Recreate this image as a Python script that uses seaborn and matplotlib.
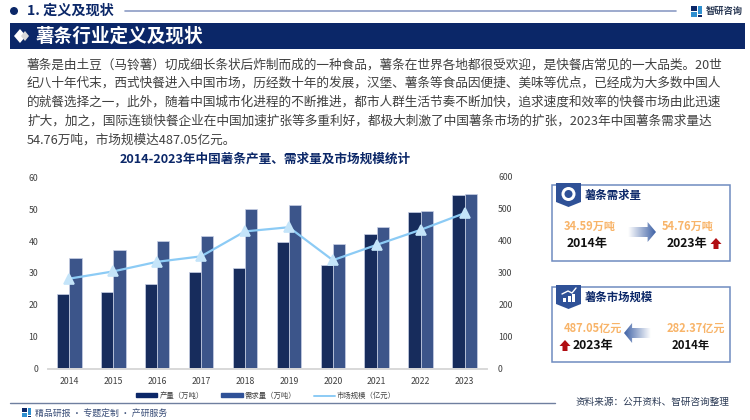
import matplotlib
matplotlib.use("Agg")
import matplotlib.pyplot as plt
from matplotlib.patches import Circle, Polygon, Rectangle
from matplotlib.lines import Line2D
import numpy as np
import pandas as pd
import seaborn as sns

years = ["2014", "2015", "2016", "2017", "2018", "2019", "2020", "2021", "2022", "2023"]
output = [23.4, 24.2, 26.7, 30.2, 31.7, 39.7, 32.4, 42.3, 49.1, 54.4]
demand = [34.59, 37.1, 39.9, 41.7, 49.9, 51.3, 39.1, 44.5, 49.3, 54.76]
market = [282.37, 305, 335, 352, 430, 443, 340, 388, 435, 487.05]
left_ticks = [0, 10, 20, 30, 40, 50, 60]
right_ticks = [0, 100, 200, 300, 400, 500, 600]

body_lines = [
    "薯条是由土豆（马铃薯）切成细长条状后炸制而成的一种食品，薯条在世界各地都很受欢迎，是快餐店常见的一大品类。20世",
    "纪八十年代末，西式快餐进入中国市场，历经数十年的发展，汉堡、薯条等食品因便捷、美味等优点，已经成为大多数中国人",
    "的就餐选择之一，此外，随着中国城市化进程的不断推进，都市人群生活节奏不断加快，追求速度和效率的快餐市场由此迅速",
    "扩大，加之，国际连锁快餐企业在中国加速扩张等多重利好，都极大刺激了中国薯条市场的扩张，2023年中国薯条需求量达",
    "54.76万吨，市场规模达487.05亿元。",
]

NAVY = "#0B2768"
BLUE = "#2F5197"
SKY = "#8CCBF5"
ORANGE = "#F8B469"
RED = "#B00D12"

sns.set_theme(style="white")
plt.rcParams["font.family"] = ["Noto Sans CJK SC", "DejaVu Sans"]

fig = plt.figure(figsize=(7.5, 4.2), dpi=100, facecolor="white")

# page furniture, drawn in pixel coordinates
bg = fig.add_axes([0, 0, 1, 1], zorder=0)
bg.set_xlim(0, 750)
bg.set_ylim(420, 0)
bg.axis("off")


def txt(x, y, s, size, color="#404040", ha="left", bold=False):
    bg.text(x, y, s, fontsize=size, color=color, ha=ha, va="center",
            fontweight="bold" if bold else "normal")


def logo(x, y, s):
    bg.add_patch(Rectangle((x, y), s * 0.55, s * 0.42, color=NAVY, lw=0))
    bg.add_patch(Rectangle((x + s * 0.62, y), s * 0.38, s * 0.75, color="#2E8FD0", lw=0))
    bg.add_patch(Rectangle((x, y + s * 0.55), s * 0.55, s * 0.45, color="#2E8FD0", lw=0))
    bg.add_patch(Rectangle((x + s * 0.62, y + s * 0.85), s * 0.38, s * 0.15, color=NAVY, lw=0))


def grad_arrow(x0, x1, y):
    # shaft fades away from the arrow head
    d = 1 if x1 > x0 else -1
    w = abs(x1 - x0)
    pts = [(x0, y - 5), (x1 - d * w * 0.3, y - 5), (x1 - d * w * 0.3, y - 10), (x1, y),
           (x1 - d * w * 0.3, y + 10), (x1 - d * w * 0.3, y + 5), (x0, y + 5)]
    shape = Polygon(pts, closed=True, fc="none", ec="none")
    bg.add_patch(shape)
    ramp = np.linspace(0, 1, 64).reshape(1, -1)
    if d < 0:
        ramp = ramp[:, ::-1]
    cmap = sns.blend_palette(["#FFFFFF", "#3F62A6"], as_cmap=True)
    im = bg.imshow(ramp, extent=(min(x0, x1), max(x0, x1), y + 10, y - 10), aspect="auto", cmap=cmap, zorder=3)
    im.set_clip_path(shape)
    bg.set_xlim(0, 750)
    bg.set_ylim(420, 0)


def up_arrow(x, y):
    bg.add_patch(Polygon([(x, y - 6), (x + 5.5, y), (x + 2.5, y), (x + 2.5, y + 5),
                          (x - 2.5, y + 5), (x - 2.5, y), (x - 5.5, y)], color=RED, lw=0))


def card(y0, y1, title, title_y):
    bg.add_patch(Rectangle((552, y0), 178, y1 - y0, fc="white", ec="#6F8BC0", lw=1.1))
    bg.add_patch(Polygon([(556, y0 - 2), (581, y0 - 2), (581, y0 + 17), (568.5, y0 + 22), (556, y0 + 17)],
                         color=BLUE, lw=0))
    txt(585, title_y, title, 8.2, color=NAVY, bold=True)


# top header
bg.add_patch(Circle((14, 11), 4, color=NAVY, lw=0))
txt(27, 11, "1. 定义及现状", 10.2, color=NAVY, bold=True)
bg.plot([125, 676], [11, 11], color="#8C9CC5", lw=1.2)
logo(691, 6, 11)
txt(706, 11, "智研咨询", 6.7, color="#2B3A55", bold=True)
bg.add_patch(Rectangle((10, 23), 735, 26, color=NAVY, lw=0))
bg.add_patch(Polygon([(14, 36), (20, 29), (26, 36), (20, 43)], color="white", lw=0))
bg.add_patch(Polygon([(21, 36), (25, 31), (29, 36), (25, 41)], color="#D9D9D9", lw=0))
txt(36, 36, "薯条行业定义及现状", 13.4, color="white", bold=True)

# paragraph
for y, line in zip([65, 83.5, 102, 121, 140], body_lines):
    txt(27, y, line, 9.14)
txt(265.5, 159, "2014-2023年中国薯条产量、需求量及市场规模统计", 9.1, color=NAVY, ha="center", bold=True)

# demand card
card(185, 261, "薯条需求量", 195)
bg.add_patch(Circle((568.5, 194), 7, color="white", lw=0))
bg.add_patch(Circle((568.5, 194), 4, color=BLUE, lw=0))
txt(590, 226, "34.59万吨", 8.0, color=ORANGE, ha="center", bold=True)
txt(587, 244, "2014年", 8.8, color="#111111", ha="center", bold=True)
grad_arrow(628, 656, 232)
txt(688, 226, "54.76万吨", 8.0, color=ORANGE, ha="center", bold=True)
txt(687, 244, "2023年", 8.8, color="#111111", ha="center", bold=True)
up_arrow(716, 244)

# market card
card(287, 362, "薯条市场规模", 297)
for bx, bh in zip([563, 567.5, 572], [4, 6, 8]):
    bg.add_patch(Rectangle((bx, 302 - bh), 3, bh, color="white", lw=0))
bg.plot([562, 568, 572, 576], [294, 291, 293, 288], color="white", lw=1)
txt(593, 328, "487.05亿元", 8.0, color=ORANGE, ha="center", bold=True)
txt(696, 328, "282.37亿元", 8.0, color=ORANGE, ha="center", bold=True)
grad_arrow(651, 624, 333)
up_arrow(565, 346)
txt(593, 346, "2023年", 8.8, color="#111111", ha="center", bold=True)
txt(691, 346, "2014年", 8.2, color="#111111", ha="center", bold=True)

# footer
bg.plot([10, 555], [403, 403], color="#6F7F9F", lw=1)
logo(22, 408, 9)
txt(35, 413, "精品研报 · 专题定制 · 产研服务", 6.4, color="#3A4E78")
txt(576, 402, "资料来源：公开资料、智研咨询整理", 6.9, color="#2B3A55")

# chart, axes box in pixels: x 48-487, y 177-369
ax = fig.add_axes([48 / 750, 1 - 369 / 420, 439 / 750, 192 / 420], zorder=2)
ax.patch.set_alpha(0)
df = pd.DataFrame({
    "year": years * 2,
    "value": output + demand,
    "series": ["产量（万吨）"] * len(years) + ["需求量（万吨）"] * len(years),
})
sns.barplot(data=df, x="year", y="value", hue="series", palette=[NAVY, BLUE], width=0.56, gap=0,
            edgecolor="#C9D1E6", linewidth=0.5, ax=ax, legend=False)
ax.set_ylim(0, 60)
ax.set_yticks(left_ticks)
ax.set_xlabel("")
ax.set_ylabel("")

ax2 = ax.twinx()
ax2.patch.set_alpha(0)
sns.pointplot(x=years, y=market, color=SKY, markers="^", linewidth=1.6, markersize=6.5,
              markerfacecolor="#C4E4F9", markeredgecolor="#C4E4F9", ax=ax2)
ax2.set_ylim(0, 600)
ax2.set_yticks(right_ticks)
ax.set_xlim(-0.485, 9.51)

for a in [ax, ax2]:
    sns.despine(ax=a, left=True, right=True, top=True)
    a.spines["bottom"].set_color("#D9D9D9")
    a.tick_params(axis="both", length=0, labelsize=6.3, labelcolor="#404040")
    a.grid(False)
ax.tick_params(axis="x", pad=6)
ax.tick_params(axis="y", pad=7)
ax2.tick_params(axis="y", pad=8)

handles = [
    Rectangle((0, 0), 1, 1, color=NAVY),
    Rectangle((0, 0), 1, 1, color=BLUE),
    Line2D([0], [0], color=SKY, lw=1.4),
]
fig.legend(handles, ["产量（万吨）", "需求量（万吨）", "市场规模（亿元）"], ncol=3, frameon=False,
           loc="center", bbox_to_anchor=(266 / 750, 1 - 396 / 420), fontsize=5.3, labelcolor="#404040",
           handlelength=2.9, handleheight=0.5, handletextpad=0.25, columnspacing=2.4)

fig.savefig("out.png", dpi=100)
